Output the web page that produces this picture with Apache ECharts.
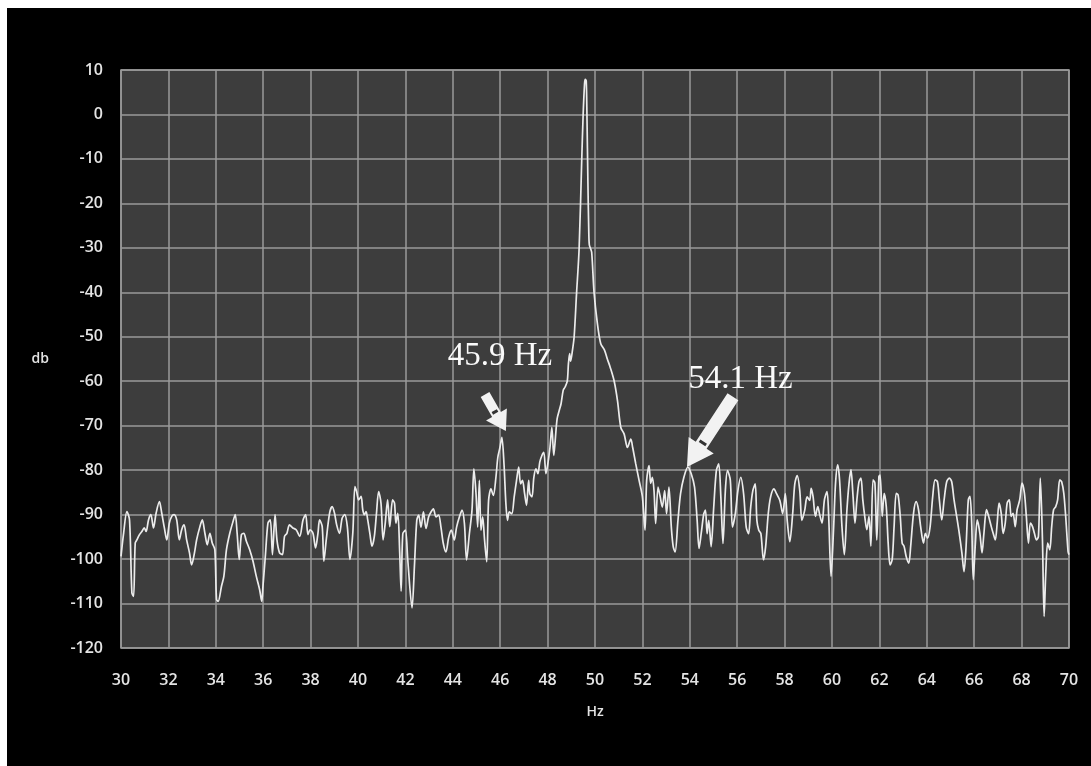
<!DOCTYPE html>
<html><head><meta charset="utf-8">
<script src="https://cdn.jsdelivr.net/npm/echarts@6/dist/echarts.min.js"></script>
<style>html,body{margin:0;padding:0;background:#000;}#c{width:1091px;height:766px;}</style>
</head><body><div id="c"></div>
<script>
// Frequency (Hz) and level (dB)
const hz = [
30.00,30.11,30.25,30.36,30.46,30.53,30.60,30.67,30.78,30.88,
30.98,31.06,31.16,31.26,31.37,31.48,31.62,31.72,31.83,31.93,
32.04,32.14,32.24,32.35,32.46,32.56,32.66,32.77,32.89,32.98,
33.10,33.19,33.33,33.43,33.54,33.64,33.75,33.85,33.96,34.03,
34.10,34.24,34.34,34.45,34.59,34.73,34.82,34.90,34.99,35.08,
35.18,35.29,35.43,35.57,35.71,35.85,35.94,35.99,36.09,36.20,
36.30,36.39,36.50,36.58,36.69,36.81,36.90,37.00,37.11,37.25,
37.39,37.54,37.68,37.79,37.89,37.98,38.10,38.21,38.31,38.38,
38.49,38.56,38.66,38.80,38.91,39.01,39.10,39.22,39.33,39.44,
39.55,39.66,39.78,39.87,39.94,40.03,40.13,40.20,40.27,40.34,
40.41,40.50,40.59,40.69,40.78,40.87,40.97,41.06,41.15,41.25,
41.34,41.46,41.54,41.60,41.68,41.76,41.82,41.89,42.00,42.10,
42.28,42.38,42.48,42.56,42.66,42.76,42.87,42.98,43.08,43.18,
43.29,43.40,43.50,43.60,43.71,43.83,43.94,44.06,44.16,44.28,
44.39,44.49,44.58,44.70,44.81,44.89,44.98,45.05,45.12,45.19,
45.26,45.34,45.43,45.51,45.61,45.71,45.82,45.90,45.99,46.07,
46.16,46.24,46.31,46.38,46.49,46.59,46.69,46.78,46.86,46.94,
47.03,47.11,47.20,47.25,47.34,47.42,47.51,47.59,47.67,47.76,
47.84,47.93,48.01,48.10,48.18,48.26,48.32,48.40,48.49,48.57,
48.66,48.74,48.83,48.88,48.93,48.97,49.05,49.12,49.22,49.33,
49.44,49.50,49.56,49.59,49.63,49.66,49.70,49.74,49.76,49.80,
49.86,49.96,50.10,50.24,50.40,50.52,50.65,50.81,50.95,51.09,
51.23,51.37,51.51,51.59,51.72,51.86,52.00,52.11,52.18,52.28,
52.35,52.42,52.49,52.56,52.66,52.74,52.84,52.94,53.02,53.12,
53.22,53.30,53.38,53.50,53.61,53.75,53.92,54.06,54.20,54.31,
54.39,54.48,54.59,54.66,54.73,54.80,54.90,55.01,55.12,55.22,
55.31,55.40,55.50,55.59,55.71,55.80,55.92,56.03,56.15,56.27,
56.38,56.48,56.57,56.66,56.76,56.83,56.91,57.00,57.11,57.20,
57.31,57.41,57.55,57.66,57.80,57.92,58.03,58.11,58.22,58.34,
58.43,58.53,58.64,58.73,58.85,58.95,59.06,59.12,59.20,59.30,
59.40,59.48,59.58,59.68,59.79,59.86,59.96,60.07,60.15,60.24,
60.32,60.42,60.52,60.63,60.72,60.80,60.88,60.97,61.05,61.14,
61.22,61.30,61.40,61.47,61.56,61.64,61.73,61.81,61.89,61.98,
62.03,62.12,62.20,62.29,62.37,62.45,62.54,62.62,62.71,62.79,
62.88,62.96,63.04,63.13,63.24,63.32,63.44,63.55,63.65,63.74,
63.86,63.94,64.03,64.14,64.25,64.35,64.45,64.53,64.63,64.73,
64.84,64.95,65.05,65.15,65.26,65.37,65.48,65.57,65.65,65.75,
65.82,65.89,65.96,66.05,66.13,66.24,66.33,66.41,66.52,66.61,
66.72,66.80,66.89,66.97,67.05,67.14,67.22,67.31,67.39,67.48,
67.56,67.64,67.73,67.81,67.92,68.02,68.12,68.20,68.29,68.37,
68.46,68.54,68.63,68.71,68.79,68.88,68.95,69.02,69.10,69.19,
69.27,69.35,69.44,69.52,69.61,69.69,69.78,69.86,69.96,70.00
];
const db = [
-99.4,-94.2,-89.3,-91.2,-107.6,-108.4,-96.4,-95.7,-94.5,-93.8,
-93.0,-93.8,-91.2,-90.0,-93.0,-89.7,-87.1,-89.7,-93.0,-95.7,
-91.9,-90.4,-90.0,-91.2,-95.7,-93.4,-92.3,-95.7,-98.6,-101.3,
-98.6,-95.7,-92.7,-91.2,-94.2,-96.8,-94.2,-96.4,-97.9,-109.1,
-109.5,-106.1,-103.9,-97.9,-94.2,-91.5,-90.0,-94.2,-100.1,-94.5,
-94.2,-96.0,-97.9,-100.5,-103.9,-106.9,-109.5,-106.1,-99.4,-91.9,
-91.2,-99.0,-90.0,-95.7,-98.6,-99.0,-94.9,-94.2,-92.3,-93.0,
-93.4,-94.9,-91.2,-90.0,-94.5,-93.4,-94.2,-97.5,-94.2,-91.2,
-92.7,-100.5,-95.7,-89.7,-88.2,-89.7,-92.3,-94.2,-90.8,-90.0,
-92.7,-100.1,-94.2,-83.7,-84.8,-86.7,-85.9,-88.9,-90.0,-89.3,
-91.2,-94.2,-97.1,-94.9,-89.7,-84.8,-87.4,-95.7,-91.9,-86.7,
-92.7,-86.7,-87.4,-91.9,-89.7,-98.6,-107.2,-94.3,-93.5,-100.2,
-111.0,-101.7,-91.3,-90.1,-92.8,-89.4,-93.1,-90.5,-89.4,-88.7,
-90.5,-90.1,-92.8,-96.5,-98.4,-95.0,-93.5,-95.7,-92.8,-90.5,
-89.0,-92.0,-100.2,-94.3,-89.0,-79.7,-85.3,-92.8,-82.3,-93.5,
-90.5,-95.7,-100.6,-86.8,-84.2,-85.7,-81.6,-77.1,-74.9,-72.6,
-78.6,-87.5,-91.3,-89.4,-89.8,-86.0,-82.3,-79.3,-83.1,-82.3,
-85.3,-87.9,-82.3,-85.3,-86.0,-81.6,-79.7,-80.8,-78.2,-76.7,
-76.0,-80.8,-78.6,-74.9,-70.4,-76.7,-73.4,-68.5,-66.6,-65.0,
-62.0,-61.3,-60.0,-56.0,-53.8,-55.5,-53.0,-50.0,-40.4,-30.2,
-10.3,0.0,7.0,7.9,7.5,0.0,-15.0,-27.0,-29.3,-30.0,
-31.0,-40.0,-47.0,-51.5,-53.0,-55.0,-57.0,-60.0,-64.4,-70.4,
-71.9,-74.9,-73.0,-74.9,-78.6,-82.3,-86.0,-93.5,-82.3,-79.0,
-83.0,-81.6,-84.6,-92.0,-83.8,-85.7,-88.3,-84.6,-89.8,-83.8,
-92.8,-97.2,-98.4,-91.3,-85.3,-81.6,-79.3,-80.8,-83.8,-91.3,
-97.6,-94.3,-89.8,-89.0,-94.3,-91.3,-97.2,-88.3,-80.1,-78.6,
-86.0,-96.5,-84.6,-80.1,-82.3,-92.8,-89.8,-84.6,-81.6,-85.3,
-92.8,-94.3,-88.3,-84.6,-83.1,-91.3,-93.5,-94.3,-100.2,-97.2,
-89.8,-86.0,-84.2,-85.3,-86.8,-89.8,-85.3,-91.3,-96.1,-89.8,
-83.1,-81.2,-84.6,-91.3,-89.0,-86.0,-86.8,-84.1,-85.9,-90.4,
-88.2,-90.0,-91.9,-86.7,-84.8,-90.4,-103.9,-92.7,-82.9,-78.8,
-82.2,-92.7,-99.0,-88.9,-82.9,-79.9,-85.2,-91.9,-86.7,-82.6,
-81.8,-86.7,-91.2,-93.4,-90.4,-97.1,-82.2,-82.9,-95.7,-81.4,
-81.1,-90.4,-85.2,-88.2,-96.4,-101.3,-100.1,-92.7,-85.2,-85.6,
-90.4,-96.4,-97.1,-99.4,-100.9,-97.1,-89.7,-87.1,-88.9,-92.7,
-96.4,-94.2,-95.3,-92.7,-85.9,-82.2,-82.6,-86.7,-91.2,-86.7,
-82.6,-81.8,-82.6,-86.7,-90.4,-94.2,-98.6,-102.8,-97.9,-86.7,
-85.9,-91.2,-104.6,-96.4,-91.2,-94.2,-98.6,-94.2,-88.9,-90.4,
-92.7,-94.2,-95.7,-91.9,-87.4,-89.7,-94.2,-91.9,-87.4,-86.7,
-90.4,-89.7,-92.7,-88.9,-86.7,-82.9,-85.2,-90.4,-96.4,-91.9,
-92.7,-94.2,-95.7,-94.9,-81.8,-95.7,-112.9,-103.1,-96.4,-97.9,
-92.7,-88.9,-88.2,-86.7,-82.2,-82.6,-85.2,-90.4,-98.3,-99.0
];
const xRange = [30, 70];
const yRange = [-120, 10];
const xStep = 2;
const yStep = 10;
const xName = 'Hz';
const yName = 'db';
const noteLabels = ['45.9 Hz', '54.1 Hz'];
const noteTextAt = [[45.99, -54.4], [56.14, -59.5]];
const noteTail = [[45.36, -63.0], [55.82, -63.5]];
const noteTip = [[46.24, -71.2], [53.88, -79.3]];

if (hz.length !== db.length) console.error('length mismatch', hz.length, db.length);
const points = hz.map((h, i) => [h, db[i]]);

const chart = echarts.init(document.getElementById('c'), null, {renderer: 'canvas'});
const tickFont = {color: '#e4e4e4', fontSize: 16, fontWeight: 600, fontFamily: 'Open Sans'};
chart.setOption({
  animation: false,
  backgroundColor: '#000',
  grid: {left: 121, right: 22, top: 70, bottom: 118, show: true,
         backgroundColor: '#3d3d3d', borderColor: '#9a9a9a', borderWidth: 1.5},
  xAxis: {
    type: 'value', min: xRange[0], max: xRange[1], interval: xStep,
    name: xName, nameLocation: 'middle', nameGap: 57,
    nameTextStyle: Object.assign({}, tickFont, {fontSize: 14}),
    axisLine: {show: false}, axisTick: {show: false},
    axisLabel: Object.assign({margin: 24}, tickFont),
    splitLine: {show: true, lineStyle: {color: '#9a9a9a', width: 1.5}}
  },
  yAxis: {
    type: 'value', min: yRange[0], max: yRange[1], interval: yStep,
    name: yName, nameLocation: 'middle', nameRotate: 0, nameGap: 72,
    nameTextStyle: Object.assign({}, tickFont, {fontSize: 14}),
    axisLine: {show: false}, axisTick: {show: false},
    axisLabel: Object.assign({margin: 18}, tickFont),
    splitLine: {show: true, lineStyle: {color: '#9a9a9a', width: 1.5}}
  },
  series: [{
    type: 'line', data: points, showSymbol: false, smooth: 0.3,
    lineStyle: {color: '#ececec', width: 1.7}, z: 3
  }],
  graphic: []
});

function arrow(tail, tip, shaft, headW, headL) {
  const dx = tip[0] - tail[0], dy = tip[1] - tail[1];
  const len = Math.hypot(dx, dy);
  const ux = dx / len, uy = dy / len, nx = -uy, ny = ux;
  const bx = tip[0] - ux * headL, by = tip[1] - uy * headL;
  const pts = [
    [tail[0] + nx * shaft / 2, tail[1] + ny * shaft / 2],
    [bx + nx * shaft / 2, by + ny * shaft / 2],
    [bx + nx * headW / 2, by + ny * headW / 2],
    [tip[0], tip[1]],
    [bx - nx * headW / 2, by - ny * headW / 2],
    [bx - nx * shaft / 2, by - ny * shaft / 2],
    [tail[0] - nx * shaft / 2, tail[1] - ny * shaft / 2]
  ];
  const mx = bx - ux * 3, my = by - uy * 3;
  return [
    {type: 'polygon', z: 100, shape: {points: pts}, style: {fill: '#f2f2f2'}},
    {type: 'line', z: 101, shape: {x1: mx + nx * shaft * 0.3, y1: my + ny * shaft * 0.3,
      x2: mx - nx * shaft * 0.3, y2: my - ny * shaft * 0.3},
      style: {stroke: '#333', lineWidth: 3}}
  ];
}

const sizes = [[10, 24, 19], [13, 30, 26]];
const g = [
  {type: 'rect', z: 200, shape: {x: 0, y: 0, width: 7, height: 766}, style: {fill: '#fff'}},
  {type: 'rect', z: 200, shape: {x: 0, y: 0, width: 1091, height: 8}, style: {fill: '#fff'}}
];
noteLabels.forEach((t, i) => {
  const p = chart.convertToPixel({xAxisIndex: 0, yAxisIndex: 0}, noteTextAt[i]);
  g.push({type: 'text', z: 100, x: p[0], y: p[1],
    style: {text: t, fill: '#fafafa', font: '33px "Liberation Serif", "Times New Roman", serif',
      align: 'center', verticalAlign: 'middle'}});
  const a = chart.convertToPixel({xAxisIndex: 0, yAxisIndex: 0}, noteTail[i]);
  const b = chart.convertToPixel({xAxisIndex: 0, yAxisIndex: 0}, noteTip[i]);
  arrow(a, b, sizes[i][0], sizes[i][1], sizes[i][2]).forEach(e => g.push(e));
});
chart.setOption({graphic: g});
</script>
</body></html>
